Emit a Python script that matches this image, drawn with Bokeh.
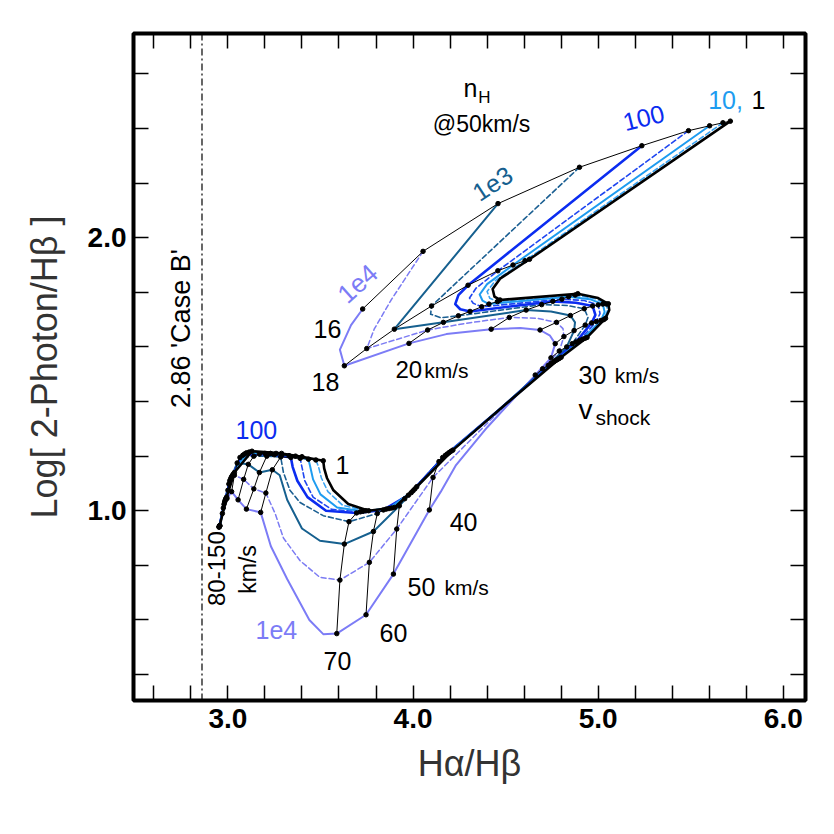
import math
from bokeh.plotting import figure
from bokeh.models import Range1d, LinearAxis, FixedTicker, Span, Label
from bokeh.embed import file_html
from bokeh.resources import INLINE

N = None

# shock velocities (km/s) of the model grid rows
velocities = [16, 17, 17.5, 18, 18.5, 19, 19.5, 20, 21, 22, 23, 24, 25, 26, 28, 30, 35, 37, 38.5,
              40, 50, 60, 70, 72, 74, 76, 78, 80, 90, 100, 120, 130, 140, 150]
marked_velocities = [16, 18, 20, 22, 24, 26, 28, 30, 40, 50, 60, 70, 80, 90, 100, 120, 130, 140, 150]
density_names = ["1", "3", "10", "30", "100", "300", "1e3", "3e3", "1e4"]

# Halpha/Hbeta (x) and log 2-photon/Hbeta (y) for each pre-shock density nH
x_n1 = [5.714, N, N, 4.629, 4.47, 4.43, 4.44, 4.47, N, 4.89, 5.00, 5.055, 5.06, 5.04, 4.94, 4.80, 4.50, N, N,
        4.215, 4.02, 3.90, 3.76, 3.65, 3.57, 3.535, 3.52, 3.515, 3.40, 3.29, 3.13, 3.035, 2.993, 2.956]
y_n1 = [2.427, N, N, 1.921, 1.85, 1.812, 1.784, 1.772, N, 1.795, 1.779, 1.758, 1.735, 1.705, 1.635, 1.562, 1.39, N, N,
        1.222, 1.088, 1.012, 1.0, 1.025, 1.075, 1.12, 1.155, 1.183, 1.198, 1.21, 1.218, 1.14, 1.05, 0.946]

x_n3 = [5.674, N, N, 4.605, 4.445, 4.40, 4.415, 4.456, N, 4.876, 4.985, 5.045, 5.05, 5.03, 4.93, 4.79, 4.495, N, N,
        4.205, 4.01, 3.885, 3.745, 3.62, 3.54, 3.505, 3.49, 3.475, 3.365, 3.26, 3.115, 3.03, 2.991, 2.956]
y_n3 = [2.421, N, N, 1.916, 1.843, 1.803, 1.778, 1.766, N, 1.79, 1.777, 1.757, 1.732, 1.70, 1.632, 1.558, 1.387, N, N,
        1.218, 1.08, 1.01, 1.0, 1.02, 1.07, 1.12, 1.16, 1.186, 1.2, 1.21, 1.215, 1.135, 1.047, 0.945]

x_n10 = [5.602, N, N, 4.54, 4.40, 4.36, 4.375, 4.41, N, 4.84, 4.955, 5.025, 5.035, 5.015, 4.915, 4.78, 4.49, N, N,
         4.195, 4.0, 3.87, 3.73, 3.59, 3.50, 3.46, 3.445, 3.435, 3.33, 3.23, 3.10, 3.025, 2.989, 2.955]
y_n10 = [2.410, N, N, 1.90, 1.83, 1.792, 1.77, 1.757, N, 1.784, 1.775, 1.757, 1.728, 1.697, 1.628, 1.554, 1.384, N, N,
         1.213, 1.073, 1.008, 0.998, 1.012, 1.06, 1.115, 1.16, 1.189, 1.202, 1.21, 1.212, 1.13, 1.044, 0.944]

x_n30 = [5.488, N, N, 4.458, 4.34, 4.305, 4.325, 4.371, N, 4.804, 4.925, 5.0, 5.01, 4.99, 4.90, 4.77, 4.485, N, N,
         4.185, 3.99, 3.855, 3.715, 3.56, 3.46, 3.415, 3.40, 3.39, 3.29, 3.20, 3.09, 3.02, 2.987, 2.955]
y_n30 = [2.392, N, N, 1.879, 1.815, 1.779, 1.76, 1.747, N, 1.775, 1.77, 1.754, 1.722, 1.693, 1.624, 1.55, 1.381, N, N,
         1.208, 1.066, 1.006, 0.996, 1.005, 1.05, 1.11, 1.16, 1.192, 1.204, 1.21, 1.208, 1.125, 1.041, 0.944]

x_n100 = [5.236, N, N, 4.297, 4.245, 4.228, 4.255, 4.308, N, 4.755, 4.88, 4.97, 4.985, 4.965, 4.88, 4.76, 4.48, N, N,
          4.175, 3.975, 3.84, 3.695, 3.53, 3.43, 3.375, 3.35, 3.34, 3.25, 3.17, 3.08, 3.015, 2.985, 2.954]
y_n100 = [2.337, N, N, 1.826, 1.79, 1.757, 1.738, 1.73, N, 1.767, 1.762, 1.75, 1.717, 1.688, 1.618, 1.546, 1.378, N, N,
          1.203, 1.057, 1.003, 0.992, 1.0, 1.05, 1.11, 1.16, 1.195, 1.205, 1.208, 1.203, 1.118, 1.037, 0.943]

x_n300 = [4.899, N, N, 4.10, N, 4.095, 4.15, 4.245, N, 4.695, 4.83, 4.925, 4.945, 4.93, 4.86, 4.745, 4.47, N, N,
          4.16, 3.955, 3.807, 3.654, 3.515, 3.39, 3.335, 3.30, 3.285, 3.21, 3.14, 3.065, 3.01, 2.982, 2.954]
y_n300 = [2.258, N, N, 1.75, N, 1.72, 1.707, 1.714, N, 1.755, 1.752, 1.74, 1.708, 1.68, 1.612, 1.54, 1.372, N, N,
          1.195, 1.044, 0.99, 0.96, 0.982, 1.03, 1.075, 1.14, 1.197, 1.2, 1.2, 1.195, 1.11, 1.032, 0.942]

x_n1e3 = [4.459, N, N, 3.899, N, N, N, 4.164, N, 4.611, 4.745, 4.85, 4.875, 4.87, 4.83, 4.73, 4.455, N, N,
          4.14, 3.926, 3.786, 3.629, 3.497, 3.40, 3.32, 3.28, 3.24, 3.17, 3.11, 3.05, 3.005, 2.979, 2.953]
y_n1e3 = [2.125, N, N, 1.665, N, N, N, 1.69, N, 1.735, 1.73, 1.715, 1.69, 1.66, 1.60, 1.532, 1.364, N, N,
          1.18, 1.018, 0.924, 0.878, 0.89, 0.935, 1.04, 1.13, 1.15, 1.14, 1.17, 1.175, 1.098, 1.024, 0.942]

x_n3e3 = [4.054, 3.88, 3.79, 3.75, N, N, N, 4.079, 4.30, 4.52, 4.67, 4.775, 4.81, 4.815, 4.79, 4.70, 4.43, N, N,
          4.108, 3.912, 3.764, 3.605, 3.497, 3.39, 3.30, 3.255, 3.205, 3.14, 3.085, 3.035, 3.0, 2.975, 2.953]
y_n3e3 = [1.95, 1.77, 1.665, 1.594, N, N, N, 1.662, 1.688, 1.708, 1.705, 1.69, 1.667, 1.638, 1.585, 1.52, 1.34, N, N,
          1.122, 0.933, 0.811, 0.746, 0.756, 0.817, 0.90, 0.99, 1.065, 1.08, 1.115, 1.13, 1.075, 1.01, 0.941]

x_n1e4 = [3.728, 3.665, 3.605, 3.629, N, N, N, 3.978, 4.18, 4.422, 4.58, 4.686, 4.74, 4.768, 4.745, 4.66, 4.40, 4.23, 4.15,
          4.088, 3.894, 3.746, 3.588, 3.515, 3.44, 3.32, 3.232, 3.177, 3.10, 3.055, 3.02, 2.995, 2.97, 2.952]
y_n1e4 = [1.739, 1.68, 1.59, 1.531, N, N, N, 1.613, 1.647, 1.665, 1.669, 1.662, 1.641, 1.612, 1.56, 1.497, 1.305, 1.165, 1.07,
          1.003, 0.768, 0.619, 0.55, 0.548, 0.60, 0.75, 0.87, 0.994, 1.006, 1.04, 1.07, 1.045, 0.99, 0.94]

case_b_ratio = 2.86

x_ticks = [2.6, 2.8, 3.0, 3.2, 3.4, 3.6, 3.8, 4.0, 4.2, 4.4, 4.6, 4.8, 5.0, 5.2, 5.4, 5.6, 5.8, 6.0]
x_tick_labels = ["", "", "3.0", "", "", "", "", "4.0", "", "", "", "", "5.0", "", "", "", "", "6.0"]
y_ticks = [0.4, 0.6, 0.8, 1.0, 1.2, 1.4, 1.6, 1.8, 2.0, 2.2, 2.4, 2.6]
y_tick_labels = ["", "", "", "1.0", "", "", "", "", "2.0", "", "", ""]

curves_x = [x_n1, x_n3, x_n10, x_n30, x_n100, x_n300, x_n1e3, x_n3e3, x_n1e4]
curves_y = [y_n1, y_n3, y_n10, y_n30, y_n100, y_n300, y_n1e3, y_n3e3, y_n1e4]
for cx, cy in zip(curves_x, curves_y):
    assert len(cx) == len(velocities) and len(cy) == len(velocities)

# styles
styles = [
    ("#000000", 2.6, "solid"),
    ("#3aa3f2", 1.6, "5 3"),
    ("#1e9cf0", 2.0, "solid"),
    ("#1f46f0", 1.6, "5 3"),
    ("#0b2cf0", 2.6, "solid"),
    ("#1b5f92", 1.6, "5 3"),
    ("#16608f", 2.0, "solid"),
    ("#7b7bf3", 1.5, "5 3"),
    ("#7c7cf6", 2.0, "solid"),
]
FONT = "Liberation Sans"

p = figure(width=834, height=834, x_range=Range1d(2.49, 6.12), y_range=Range1d(0.305, 2.748),
           output_backend="svg", toolbar_location=None,
           min_border_left=133, min_border_right=29, min_border_top=33, min_border_bottom=134)
p.xgrid.visible = False
p.ygrid.visible = False
p.outline_line_color = "black"
p.outline_line_width = 4
p.background_fill_color = "white"
p.border_fill_color = "white"


def style_axis(ax, ticks, labels, show_labels):
    ax.ticker = FixedTicker(ticks=ticks)
    ax.major_label_overrides = {t: lab for t, lab in zip(ticks, labels)}
    ax.major_tick_in = 15
    ax.major_tick_out = 0
    ax.major_tick_line_width = 1.5
    ax.major_tick_line_color = "black"
    ax.minor_tick_line_color = None
    ax.axis_line_color = None
    ax.major_label_text_font = FONT
    ax.major_label_text_font_style = "bold"
    ax.major_label_text_color = "black"
    if show_labels:
        ax.major_label_text_font_size = "28px"
    else:
        ax.major_label_text_font_size = "0px"


style_axis(p.xaxis[0], x_ticks, x_tick_labels, True)
style_axis(p.yaxis[0], y_ticks, y_tick_labels, True)
p.xaxis[0].major_label_standoff = 8
p.yaxis[0].major_label_standoff = 7
p.xaxis[0].axis_label = "Hα/Hβ"
p.yaxis[0].axis_label = "Log[ 2-Photon/Hβ ]"
for ax in (p.xaxis[0], p.yaxis[0]):
    ax.axis_label_text_font = FONT
    ax.axis_label_text_font_size = "36px"
    ax.axis_label_text_font_style = "normal"
    ax.axis_label_text_color = "#333333"
p.xaxis[0].axis_label_standoff = 12
p.yaxis[0].axis_label_standoff = 20

top_ax = LinearAxis()
style_axis(top_ax, x_ticks, ["" for _ in x_ticks], False)
p.add_layout(top_ax, "above")
right_ax = LinearAxis()
style_axis(right_ax, y_ticks, ["" for _ in y_ticks], False)
p.add_layout(right_ax, "right")

# Case B line
p.add_layout(Span(location=case_b_ratio, dimension="height", line_color="black",
                  line_width=1.2, line_dash="7 3 2 3"))

# density curves
for i in reversed(range(len(density_names))):
    xs = [a for a, b in zip(curves_x[i], curves_y[i]) if a is not None and b is not None]
    ys = [b for a, b in zip(curves_x[i], curves_y[i]) if a is not None and b is not None]
    col, w, dash = styles[i]
    p.line(xs, ys, line_color=col, line_width=w, line_dash=dash, line_join="round", line_cap="round")

# velocity lines and dots
dot_x, dot_y = [], []
for v in marked_velocities:
    k = velocities.index(v)
    xs = [curves_x[i][k] for i in range(len(density_names))]
    ys = [curves_y[i][k] for i in range(len(density_names))]
    p.line(xs, ys, line_color="black", line_width=1.0, line_join="round")
    dot_x += xs
    dot_y += ys
p.scatter(dot_x, dot_y, size=4.5, color="black")


def lab(x, y, text, size, color="black", angle=0.0, align="center", baseline="middle"):
    p.add_layout(Label(x=x, y=y, text=text, text_font=FONT, text_font_size=f"{size}px",
                       text_color=color, angle=angle, angle_units="deg",
                       text_align=align, text_baseline=baseline))


c10 = styles[2][0]
c100 = styles[4][0]
c1e3 = styles[6][0]
c1e4 = styles[8][0]

lab(4.310, 2.547, "n", 25)
lab(4.385, 2.512, "H", 17)
lab(4.370, 2.418, "@50km/s", 23)
lab(5.688, 2.503, "10,", 25, c10)
lab(5.866, 2.503, "1", 25)
lab(5.245, 2.440, "100", 25, c100, angle=14)
lab(4.429, 2.199, "1e3", 25, c1e3, angle=33)
lab(3.700, 1.832, "1e4", 26, c1e4, angle=42)
lab(3.538, 1.667, "16", 25)
lab(3.527, 1.473, "18", 25)
lab(3.905, 1.517, "20", 24, align="left")
lab(4.060, 1.515, "km/s", 21, align="left")
lab(4.894, 1.499, "30", 25, align="left")
lab(5.090, 1.497, "km/s", 21, align="left")
lab(4.894, 1.372, "v", 28, align="left")
lab(4.985, 1.340, "shock", 21, align="left")
lab(3.154, 1.297, "100", 25, c100)
lab(3.619, 1.166, "1", 25)
lab(4.273, 0.960, "40", 25)
lab(3.970, 0.722, "50", 25, align="left")
lab(4.170, 0.720, "km/s", 21, align="left")
lab(3.894, 0.554, "60", 25)
lab(3.592, 0.451, "70", 25)
lab(3.262, 0.565, "1e4", 25, c1e4)
lab(2.938, 0.788, "80-150", 24, angle=90)
lab(3.106, 0.785, "km/s", 23, angle=90)
lab(2.749, 1.667, "2.86 'Case B'", 27, angle=90)

open("out.html", "w").write(file_html(p, INLINE))
